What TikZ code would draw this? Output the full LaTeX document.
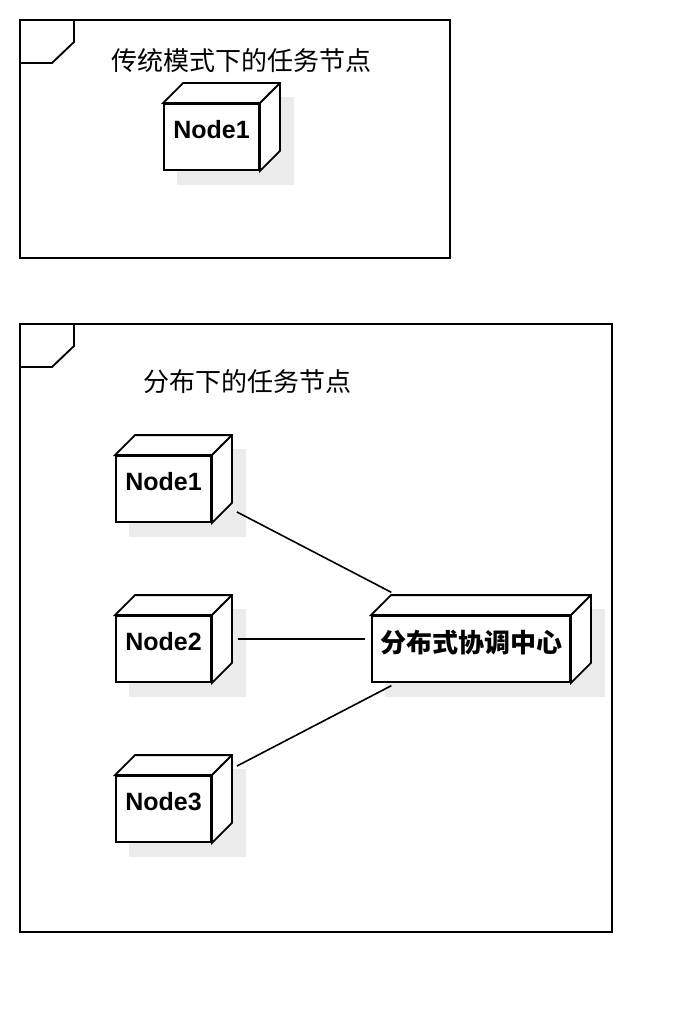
\documentclass[tikz,border=0pt]{standalone}
\usepackage{fontspec}
\setmainfont{Liberation Sans}
\newfontfamily\cjk{Noto Sans CJK SC}
\usetikzlibrary{fit}
\usetikzlibrary{backgrounds}
\tikzset{umlframe/.style = {draw, line width = 1.4pt}}
\tikzset{title/.style = {inner sep = 0, font = \cjk\fontsize{19.5}{20}\selectfont}}
\tikzset{box/.style = {draw, fill = white, line width = 1.4pt, inner sep = 0,
                       minimum width = 71.25pt, minimum height = 49.5pt,
                       text height = 26pt, text depth = 23.5pt,
                       font = \fontsize{18.75}{20}\selectfont\bfseries}}
\tikzset{side/.style = {draw, fill = white, line width = 1.4pt}}
\tikzset{hull/.style = {inner sep = 0}}
\tikzset{shadowbox/.style = {fill = black!8}}
\tikzset{link/.style = {line width = 1.2pt, shorten <= 4pt, shorten >= 4pt}}

\begin{document}
\begin{tikzpicture}[x = 0.75pt, y = -0.75pt]
      \useasboundingbox (0, 0) rectangle (692, 1012);

      % traditional mode
      \draw [umlframe] (20, 20) rectangle (450, 258);
      \draw [umlframe] (20, 63) -- (52, 63) -- (74, 42) -- (74, 20);
      \node [title] (title1) at (241, 61) {传统模式下的任务节点};
      \node [box] (single) at (211.5, 137) {Node1};

      % distributed mode
      \draw [umlframe] (20, 324) rectangle (612, 932);
      \draw [umlframe] (20, 367) -- (52, 367) -- (74, 346) -- (74, 324);
      \node [title] (title2) at (247, 382) {分布下的任务节点};
      \node [box] (node1) at (163.5, 489) {Node1};
      \node [box] (node2) at (163.5, 649) {Node2};
      \node [box] (node3) at (163.5, 809) {Node3};
      \node [box, minimum width = 148.5pt, text height = 27.5pt, text depth = 22pt,
             font = \cjk\fontsize{19.5}{20}\selectfont\bfseries] (hub) at (471, 649) {分布式协调中心};

      % depth faces and shadows
      \foreach \n in {single, node1, node2, node3, hub} {
        \draw [side] (\n.north west) -- ++(20, -20) -- ([shift = {(20, -20)}] \n.north east)
                     -- ([shift = {(20, -20)}] \n.south east) -- (\n.south east) -- (\n.north east) -- cycle;
        \draw [side] (\n.north east) -- ++(20, -20);
        \node [hull, fit = {(\n.south west) ([shift = {(20, -20)}] \n.north east)}] (\n-hull) {};
        \begin{scope}[on background layer]
          \fill [shadowbox] ([shift = {(14, 14)}] \n-hull.north west) rectangle ([shift = {(14, 14)}] \n-hull.south east);
        \end{scope}
      }

      \draw [link] (node1-hull) -- (hub-hull);
      \draw [link] (node2-hull) -- (hub-hull);
      \draw [link] (node3-hull) -- (hub-hull);
    \end{tikzpicture}
\end{document}
